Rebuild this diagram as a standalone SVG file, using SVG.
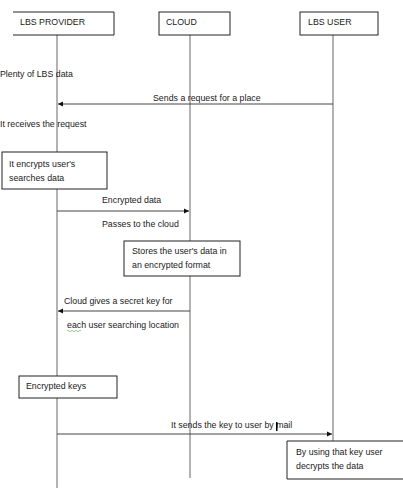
<svg xmlns="http://www.w3.org/2000/svg" width="403" height="489" viewBox="0 0 403 489">
<defs>
<style>
text{font-family:"Liberation Sans",Arial,sans-serif;font-size:8.8px;fill:#1a1a1a}
.box{fill:#fff;stroke:#222;stroke-width:1}
.life{stroke:#666;stroke-width:1;fill:none}
.msg{stroke:#444;stroke-width:1;fill:none}
</style>
<marker id="ah" markerWidth="6" markerHeight="6" refX="5" refY="3" orient="auto" markerUnits="userSpaceOnUse">
<path d="M0,0.5 L5,3 L0,5.5 Z" fill="#111"/>
</marker>
</defs>
<rect width="403" height="489" fill="#fff"/>
<g id="lifelines">
<line class="life" x1="57" y1="35" x2="57" y2="488" stroke="#999"/>
<line class="life" x1="190" y1="35" x2="190" y2="478"/>
<line class="life" x1="333" y1="35" x2="333" y2="441"/>
</g>
<g id="lbs-provider">
<path class="box" d="M13,12 H114 V35 H13"/>
<text x="20" y="25">LBS PROVIDER</text>
</g>
<g id="cloud">
<rect class="box" x="159" y="12" width="71" height="23"/>
<text x="166" y="25">CLOUD</text>
</g>
<g id="lbs-user">
<rect class="box" x="300" y="12" width="78" height="23"/>
<text x="308" y="25">LBS USER</text>
</g>
<g id="notes">
<text x="0" y="77">Plenty of LBS data</text>
<text x="0" y="127">It receives the request</text>
<text x="102" y="203">Encrypted data</text>
<text x="102" y="227">Passes to the cloud</text>
<text x="64" y="304">Cloud gives a secret key for</text>
<text x="67" y="328">each user searching location</text>
<path d="M67,331 q1,-1.5 2,0 t2,0 t2,0 t2,0 t2,0 t2,0 t2,0" fill="none" stroke="#5cb85c" stroke-width="0.7"/>
</g>
<g id="encrypt-box">
<rect class="box" x="2" y="152" width="105" height="37"/>
<text x="9" y="167">It encrypts user's</text>
<text x="9" y="181">searches data</text>
</g>
<g id="store-box">
<rect class="box" x="124" y="241" width="116" height="35"/>
<text x="132" y="254">Stores the user's data in</text>
<text x="132" y="268">an encrypted format</text>
</g>
<g id="keys-box">
<rect class="box" x="19" y="376" width="98" height="22"/>
<text x="26" y="389">Encrypted keys</text>
</g>
<g id="decrypt-box">
<path class="box" d="M404,441 H287 V479 H404"/>
<text x="296" y="455">By using that key user</text>
<text x="296" y="469">decrypts the data</text>
</g>
<g id="connectors">
<line class="msg" x1="333" y1="104" x2="58" y2="104" marker-end="url(#ah)"/>
<text x="153" y="101">Sends a request for a place</text>
<line class="msg" x1="57" y1="211" x2="189" y2="211" marker-end="url(#ah)"/>
<line class="msg" x1="190" y1="311" x2="58" y2="311" marker-end="url(#ah)"/>
<line class="msg" x1="57" y1="434" x2="332" y2="434" marker-end="url(#ah)"/>
<text x="171" y="428">It sends the key to user by mail</text>
<rect x="276" y="422" width="1.5" height="9" fill="#000"/>
</g>
</svg>
